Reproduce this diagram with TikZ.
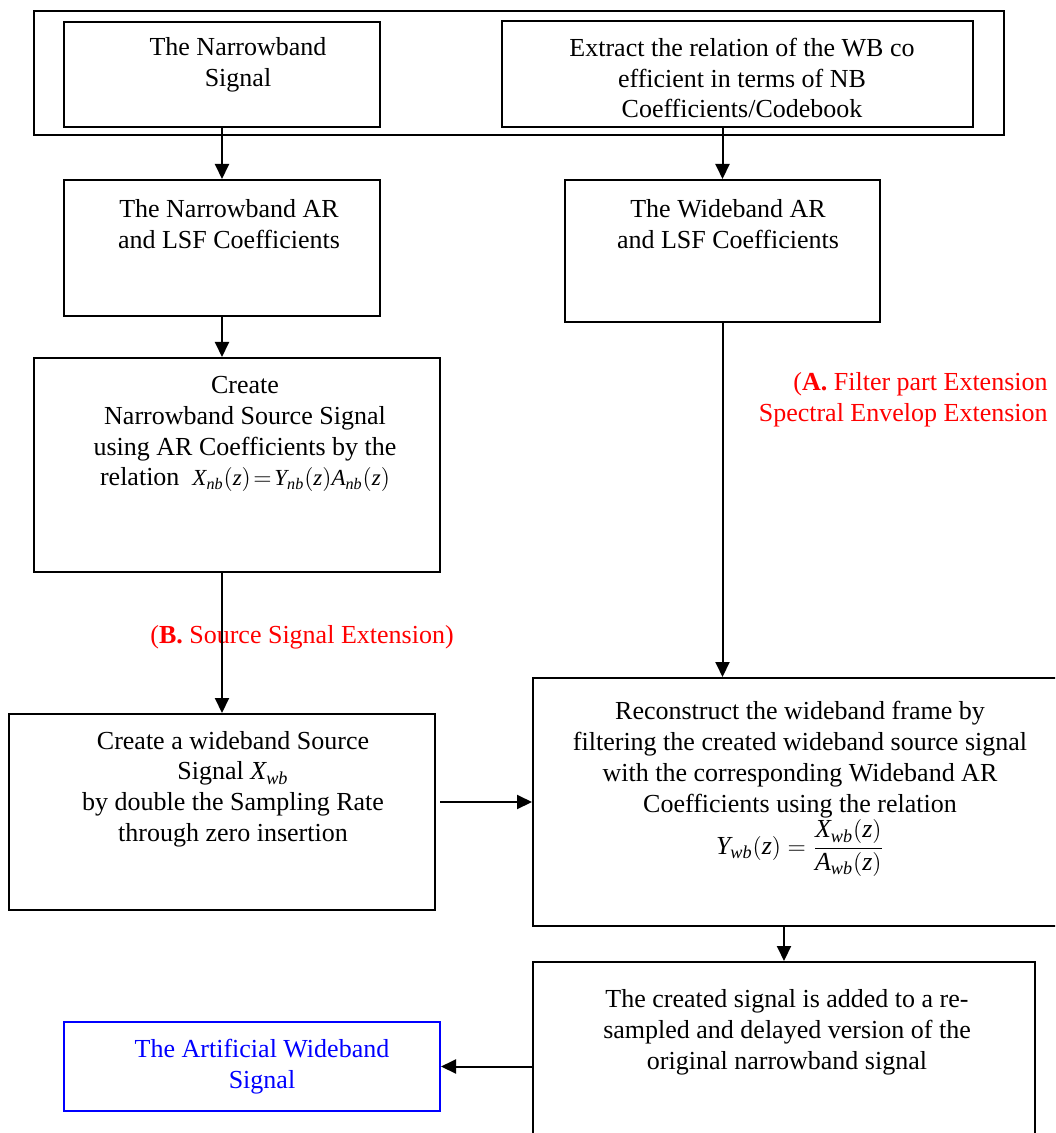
\documentclass[tikz,border=0pt]{standalone}
\usepackage{amsmath}
\usepackage{fontspec}
\setmainfont{Liberation Serif}
\usetikzlibrary{arrows.meta}
\newcommand{\zsig}[2]{\textit{#1}_{\textit{#2}}(\textit{z})}
\tikzset{
	box/.style={draw, line width=1pt, inner sep=0pt},
	txt/.style={align=center, inner sep=0pt},
	arr/.style={line width=1pt, -{Triangle[length=7.5pt,width=7pt]}},
	note/.style={text=red, inner sep=0pt}
}

\begin{document}
\begin{tikzpicture}[x=0.5pt, y=-0.5pt, font=\fontsize{13}{15.4}\selectfont]
		%%%%% START %%%%%
		\clip (0,0) rectangle (1055,1133);
		
		\node[box, line width=1.4pt, minimum width=485pt, minimum height=62pt] (outer) at (519,73) {};
		\node[box, minimum width=158pt, minimum height=52.5pt] (nbsig) at (222,74.5) {};
		\node[box, minimum width=235.5pt, minimum height=53pt] (extract) at (737.5,74) {};
		
		\node[box, minimum width=158pt, minimum height=68pt] (nbar) at (222,248) {};
		\node[box, minimum width=157.5pt, minimum height=71pt] (wbar) at (722.5,251) {};
		
		\node[box, minimum width=203pt, minimum height=107pt] (createnb) at (237,465) {};
		\node[box, minimum width=213pt, minimum height=98pt] (createwb) at (222,812) {};
		\node[box, minimum width=263.5pt, minimum height=124pt] (recon) at (796.5,802) {};
		
		\node[box, minimum width=251pt, minimum height=91.5pt] (created) at (784,1053.5) {};
		\node[box, draw=blue, minimum width=188pt, minimum height=44.5pt] (artif) at (252,1066.5) {};
		
		% texts
		\node[txt] (nbsigtxt) at (238,65) {The Narrowband\\Signal};
		\node[txt] (extracttxt) at (742,78) {Extract the relation of the WB co\\efficient in terms of NB\\Coefficients/Codebook};
		\node[txt] (nbartxt) at (229,224) {The Narrowband AR\\and LSF Coefficients};
		\node[txt] (wbartxt) at (728,224) {The Wideband AR\\and LSF Coefficients};
		\node[txt] (createnbtxt) at (245,434) {Create\\Narrowband Source Signal\\using AR Coefficients by the\\relation\ \ {\fontsize{11.5}{14}\selectfont $\zsig{X}{nb}\!=\!\zsig{Y}{nb}\zsig{A}{nb}$}};
		\node[txt] (createwbtxt) at (233,789) {Create a wideband Source\\Signal $\textit{X}_{\textit{wb}}$\\by double the Sampling Rate\\through zero insertion};
		\node[txt] (recontxt) at (800,789) {Reconstruct the wideband frame by\\filtering the created wideband source signal\\with the corresponding Wideband AR\\Coefficients using the relation\\$\displaystyle \zsig{Y}{wb}=\frac{\zsig{X}{wb}}{\zsig{A}{wb}}$};
		\node[txt] (createdtxt) at (787,1032) {The created signal is added to a re-\\sampled and delayed version of the\\original narrowband signal};
		\node[txt, text=blue] (artiftxt) at (262,1067) {The Artificial Wideband\\Signal};
		
		\node[note] (labelb) at (302,637) {(\textbf{B.} Source Signal Extension)};
		\node[note, anchor=east, align=right] (labela) at (1048,400) {(\textbf{A.} Filter part Extension\\Spectral Envelop Extension};
		
		% arrows
		\draw[arr] (nbsig.south) -- (nbar.north);
		\draw[arr] (extract.south -| wbar.north) -- (wbar.north);
		\draw[arr] (nbar.south) -- (nbar.south |- createnb.north);
		\draw[arr] (createnb.south -| createwb.north) -- (createwb.north);
		\draw[arr] (wbar.south) -- (wbar.south |- recon.north);
		\draw[arr, shorten <=2pt] (createwb.east |- recon.west) -- (recon.west);
		\draw[arr] (recon.south -| created.north) -- (created.north);
		\draw[arr] (created.west |- artif.east) -- (artif.east);
		
		%%%%% END %%%%%
\end{tikzpicture}
\end{document}
